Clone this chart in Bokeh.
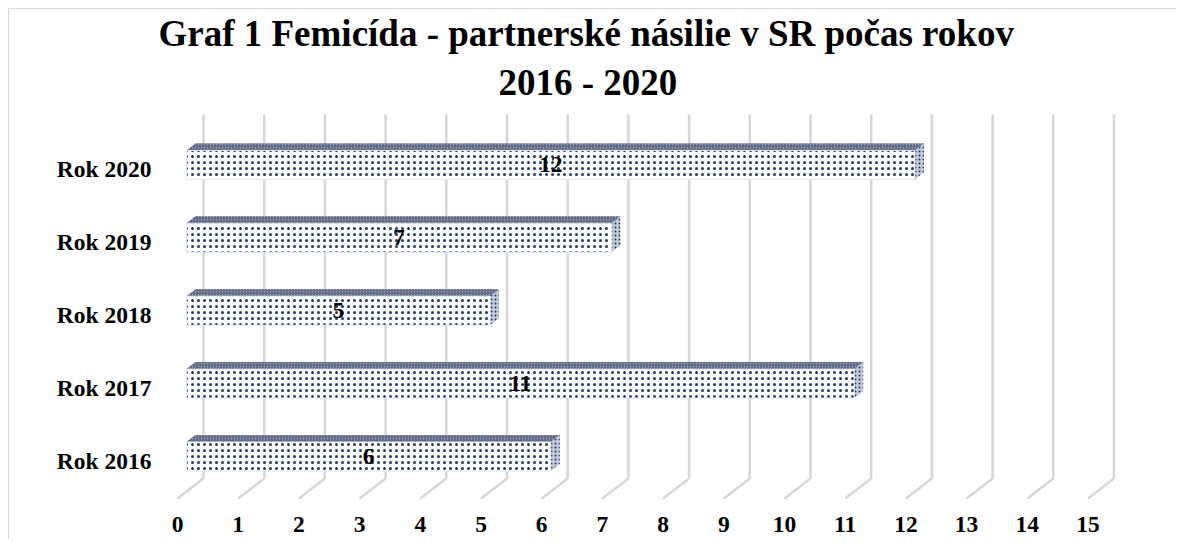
import numpy as np
from bokeh.plotting import figure
from bokeh.models import FixedTicker, ColumnDataSource, Title
from bokeh.embed import file_html
from bokeh.resources import INLINE
from bokeh.core.properties import value

categories = ["Rok 2016", "Rok 2017", "Rok 2018", "Rok 2019", "Rok 2020"]
values = [6, 11, 5, 7, 12]
x_ticks = list(range(0, 16))
title_lines = ["Graf 1 Femicída - partnerské násilie v SR počas rokov", "2016 - 2020"]

PX = 60.7    # pixels per unit on x
PY = 72.9    # pixels per row on y
FONT = "Liberation Serif"
OFF = 9      # page offset of the canvas
W, H = 1168, 531
ML, MT, MB, MR = 161, 100, 41, 7
frame_top_page = OFF + MT

p = figure(width=W, height=H, title=None,
           x_range=(-7 / PX, 993 / PX),
           y_range=(-39 / PY, (460 - frame_top_page) / PY),
           output_backend="svg", toolbar_location=None,
           min_border_left=ML, min_border_right=MR, min_border_top=MT, min_border_bottom=MB)
p.styles = {"margin-left": "8px", "margin-top": "8px",
            "border-left": "1px solid #d9d9d9", "border-top": "1px solid #d9d9d9"}
p.outline_line_color = None
p.xgrid.visible = False
p.ygrid.visible = False
p.background_fill_color = "white"

# 3D geometry (in data units)
back_dx, floor_front, floor_back, wall_top = 26 / PX, -38 / PY, -18 / PY, 346 / PY
bar_dx = 9 / PX
depth_dx, depth_dy = 9 / PX, 7 / PY
bar_h = 29 / PY
bar_off = 4 / PY

xt = np.array(x_ticks, dtype=float)
p.segment(x0=xt + back_dx, y0=[floor_back] * len(xt), x1=xt + back_dx, y1=[wall_top] * len(xt),
          line_color="#d6d6d6", line_width=2.5)
p.segment(x0=xt, y0=[floor_front] * len(xt), x1=xt + back_dx, y1=[floor_back] * len(xt),
          line_color="#d6d6d6", line_width=2.5)

v = np.array(values, dtype=float)
rows = np.arange(len(categories), dtype=float)
cy = rows + bar_off
x0 = np.full_like(v, bar_dx)
x1 = v + bar_dx
b = cy - bar_h / 2
t = cy + bar_h / 2

top_xs = [[a, c, c + depth_dx, a + depth_dx] for a, c in zip(x0, x1)]
top_ys = [[tt, tt, tt + depth_dy, tt + depth_dy] for tt in t]
side_xs = [[c, c, c + depth_dx, c + depth_dx] for c in x1]
side_ys = [[bb, tt, tt + depth_dy, bb + depth_dy] for bb, tt in zip(b, t)]

p.patches(top_xs, top_ys, fill_color="#9aa1b0", line_color=None,
          hatch_pattern="right_diagonal_line", hatch_color="#5a6682", hatch_scale=3, hatch_weight=1.2)
p.patches(side_xs, side_ys, fill_color="#c3cad8", line_color=None,
          hatch_pattern="dot", hatch_color="#1f3864", hatch_scale=4, hatch_weight=2.2)
p.quad(left=x0, right=x1, bottom=b, top=t, fill_color="white", line_color="#e4e7ee", line_width=1,
       hatch_pattern="dot", hatch_color="#1f3a68", hatch_scale=6, hatch_weight=3.6)

src = ColumnDataSource(dict(x=v / 2 + bar_dx, y=cy, txt=[str(int(a)) for a in values]))
p.text(x="x", y="y", text="txt", source=src, text_align="center", text_baseline="middle",
       text_font=value(FONT), text_font_style="bold", text_font_size="23.5px", text_color="black")

# title: second line added first (closest to the plot area)
p.add_layout(Title(text=title_lines[1], align="left", offset=328, standoff=13,
                   text_font=FONT, text_font_style="bold", text_font_size="37px",
                   text_line_height=0.88, text_color="black"), "above")
p.add_layout(Title(text=title_lines[0], align="left", offset=-12, standoff=0,
                   text_font=FONT, text_font_style="bold", text_font_size="37px",
                   text_color="black"), "above")

p.xaxis.ticker = FixedTicker(ticks=x_ticks)
p.yaxis.ticker = FixedTicker(ticks=list(rows))
p.yaxis.major_label_overrides = {int(i): c for i, c in zip(rows, categories)}
for ax in (p.xaxis, p.yaxis):
    ax.axis_line_color = None
    ax.major_tick_line_color = None
    ax.minor_tick_line_color = None
    ax.major_label_text_font = FONT
    ax.major_label_text_font_style = "bold"
    ax.major_label_text_font_size = "23.5px"
    ax.major_label_text_color = "black"
p.xaxis.major_label_standoff = 11
p.yaxis.major_label_standoff = 13

open("out.html", "w").write(file_html(p, INLINE))
